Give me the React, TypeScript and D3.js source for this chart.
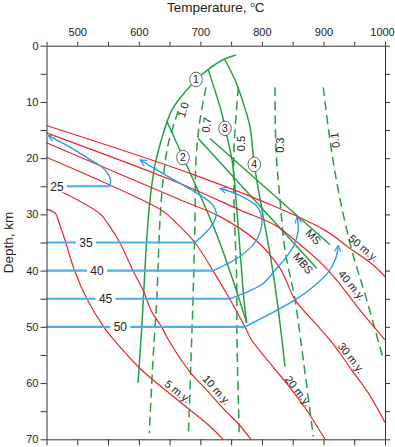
import { useEffect, useRef } from 'react'
import * as d3 from 'd3'

type Pt = [number, number]

// axis ticks
const tempTicks = [450, 500, 550, 600, 650, 700, 750, 800, 850, 900, 950, 1000]
const tempLabels = [500, 600, 700, 800, 900, 1000]
const depthTicks = [0, 5, 10, 15, 20, 25, 30, 35, 40, 45, 50, 55, 60, 65, 70]
const depthLabels = [0, 10, 20, 30, 40, 50, 60, 70]

// geotherms (temperature °C, depth km)
const geo5: Pt[] = [[450, 29.1], [464, 29.75], [470, 31.35], [480, 34.55], [496, 40.1], [516, 45.1], [543, 50.0], [561, 52.5], [602, 57.4], [656, 62.4], [710, 67.15], [737, 70]]
const geo10: Pt[] = [[450, 24.65], [537, 29.9], [550, 31.7], [569, 35.0], [591, 40.1], [607, 43.5], [621, 47.3], [637, 50.0], [648, 52.3], [683, 58.0], [710, 61.2], [737, 64.5], [764, 67.5], [782, 70]]
const geo20: Pt[] = [[450, 19.85], [639, 29.4], [656, 31.0], [691, 35.0], [721, 40.1], [748, 45.1], [772.5, 50.0], [783, 52.3], [818, 57.1], [845, 60.7], [872, 64.7], [902.5, 70]]
const geo30: Pt[] = [[450, 17.25], [667, 27.4], [732, 30.4], [791, 34.7], [830, 39.7], [854, 45.2], [892, 50.0], [919, 53.5], [946, 57.7], [973, 61.8], [1000, 67.0]]
const geo40: Pt[] = [[450, 15.5], [667, 24.5], [764, 29.2], [821, 31.9], [859, 35.1], [902, 39.3], [921.5, 41.7], [962, 47.4], [1000, 52.3]]
const geo50: Pt[] = [[450, 14.2], [683, 22.7], [821, 28.6], [902, 32.8], [940, 35.8], [984, 39.3], [1000, 41.1]]

const geotherms = [geo5, geo10, geo20, geo30, geo40, geo50]
const geoLabels = ['5 m.y.', '10 m.y.', '20 m.y.', '30 m.y.', '40 m.y.', '50 m.y.']

// melting reaction curves (solid green)
const curve1: Pt[] = [[598.7, 60], [603.5, 52.3], [607.3, 45.2], [612.8, 34.55], [618.2, 27.4], [626.3, 21.2], [639.8, 15.6], [653.9, 11.4], [677.8, 7.9], [692.9, 6.1], [715.6, 4.0], [736.8, 2.5], [757.9, 1.65]]
const curve2: Pt[] = [[645.3, 13.4], [671.8, 19.8], [699.4, 26.55], [727, 33.7], [753, 41.7], [775.3, 49.3]]
const curve3: Pt[] = [[712.9, 4.3], [727, 9.1], [735.2, 12.15], [740, 14.6], [751.4, 20.3], [757.9, 27.4], [764.4, 36.3], [770.9, 45.2], [775.3, 49.3]]
const curve4: Pt[] = [[740, 2.54], [756.3, 6.1], [769.8, 10.2], [780.6, 14.4], [787.6, 21.1], [800.2, 29.2], [814.8, 38.1], [824.5, 45.2], [832.6, 52.3], [837.5, 57.1]]
const msLine: Pt[] = [[715.6, 16.5], [910.6, 35.4]]
const mbsLine: Pt[] = [[696.6, 16.5], [889, 39.6]]

// water activity isopleths (dashed green)
const iso10: Pt[] = [[664, 11.6], [648, 17.4], [640, 23.3], [634.4, 31.0], [629.1, 45.2], [623, 55.9], [617, 68.9]]
const iso07: Pt[] = [[709.2, 7.4], [699.4, 13.2], [692.9, 20.3], [691.3, 31.0], [688, 45.2], [685.9, 52.3], [680.4, 69.5]]
const iso05: Pt[] = [[761.6, 7.4], [754.6, 18.55], [754.6, 27.4], [759, 41.7], [759.5, 52.3], [763.3, 69.5]]
const iso03: Pt[] = [[821.3, 7.4], [822.9, 18.55], [829.4, 27.4], [837.5, 36.3], [853.8, 45.2], [867.3, 55.9], [883.5, 69.5]]
const iso01: Pt[] = [[899.7, 7.4], [910.6, 16.8], [924.1, 25.7], [945.9, 36.3], [970.3, 45.2], [997.5, 55.9]]
const isopleths = [iso10, iso07, iso05, iso03, iso01]
const isoLabels = ['1.0', '0.7', '0.5', '0.3', '0.1']

// P-T paths: isobaric heating then decompression
const pathDepths = [25, 35, 40, 45, 50]
const pathTurnT = [553, 691, 721, 748, 772.5]
const path25: Pt[] = [[553, 25], [554, 23.8], [549, 22.6], [538, 21.4], [520, 20.2], [497, 18.6], [474, 17.2], [453, 16.0]]
const path35: Pt[] = [[691, 35], [710, 33.1], [722, 31.3], [726, 29.8], [720, 28.3], [707, 27.1], [688, 25.8], [667, 24.5], [634, 22.4], [602, 20.3]]
const path40: Pt[] = [[721, 40], [764, 37.5], [791, 34.6], [800, 31.0], [792, 28.6], [764, 26.6], [732, 25.4]]
const path45: Pt[] = [[748, 45], [780, 43.6], [802, 42.3], [821, 40.0], [840, 37.5], [853, 35.3], [859, 32.8], [857, 30.4]]
const path50: Pt[] = [[772.5, 50], [813, 47.7], [854, 45.2], [883, 42.9], [907, 40.4], [920, 37.8], [924, 35.5]]
const paths = [path25, path35, path40, path45, path50]

const RED = '#e8262b'
const GREEN = '#23a044'
const BLUE = '#2a9de0'
const BLUE_LIGHT = '#4aaeea'
const FONT = '"Liberation Sans", Arial, sans-serif'

export default function App() {
  const ref = useRef<SVGSVGElement>(null)

  useEffect(() => {
    const svg = d3.select(ref.current)
    svg.selectAll('*').remove()

    const x = d3.scaleLinear().domain([450, 1000]).range([46.5, 385])
    const y = d3.scaleLinear().domain([0, 70]).range([45.7, 439.3])

    const line = d3
      .line<Pt>()
      .x((d) => x(d[0]))
      .y((d) => y(d[1]))
      .curve(d3.curveCatmullRom.alpha(0.5))

    svg
      .append('defs')
      .append('marker')
      .attr('id', 'arr')
      .attr('viewBox', '0 0 10 10')
      .attr('refX', 9)
      .attr('refY', 5)
      .attr('markerWidth', 8)
      .attr('markerHeight', 8)
      .attr('markerUnits', 'userSpaceOnUse')
      .attr('orient', 'auto')
      .append('path')
      .attr('d', 'M1,1 L9,5 L1,9')
      .attr('fill', 'none')
      .attr('stroke', BLUE)
      .attr('stroke-width', 1.4)

    const addText = (t: string, tt: number, dd: number, a: number, size = 11) =>
      svg
        .append('text')
        .attr('transform', `translate(${x(tt)},${y(dd)}) rotate(${a})`)
        .attr('text-anchor', 'middle')
        .attr('dy', '0.35em')
        .attr('font-size', size)
        .attr('font-family', FONT)
        .attr('fill', '#222')
        .text(t)

    // green solid curves
    ;[curve1, curve2, curve3, curve4, msLine, mbsLine].forEach((c) => {
      svg.append('path').attr('d', line(c)).attr('fill', 'none').attr('stroke', GREEN).attr('stroke-width', 1.5)
    })
    // green dashed isopleths
    isopleths.forEach((c) => {
      svg
        .append('path')
        .attr('d', line(c))
        .attr('fill', 'none')
        .attr('stroke', GREEN)
        .attr('stroke-width', 1.5)
        .attr('stroke-dasharray', '9,5')
    })

    // red geotherms
    geotherms.forEach((g) => {
      svg.append('path').attr('d', line(g)).attr('fill', 'none').attr('stroke', RED).attr('stroke-width', 1.2)
    })

    // blue paths
    pathDepths.forEach((d, i) => {
      svg
        .append('line')
        .attr('x1', x(450))
        .attr('x2', x(pathTurnT[i]))
        .attr('y1', y(d))
        .attr('y2', y(d))
        .attr('stroke', BLUE_LIGHT)
        .attr('stroke-width', 2.2)
      svg
        .append('path')
        .attr('d', line(paths[i]))
        .attr('fill', 'none')
        .attr('stroke', BLUE)
        .attr('stroke-width', 1.4)
        .attr('marker-end', 'url(#arr)')
    })

    // isobar labels
    const isobarLabelT = [467, 514, 532, 546, 570]
    pathDepths.forEach((d, i) => {
      const g = svg.append('g').attr('transform', `translate(${x(isobarLabelT[i])},${y(d)})`)
      g.append('rect').attr('x', -10).attr('y', -6).attr('width', 20).attr('height', 12).attr('fill', '#fff')
      g.append('text')
        .attr('text-anchor', 'middle')
        .attr('dy', '0.36em')
        .attr('font-size', 12)
        .attr('font-family', FONT)
        .attr('fill', '#222')
        .text(String(d))
    })

    // geotherm labels
    const geoLabelPos: [number, number, number][] = [
      [663, 61.5, 39],
      [726.5, 61.2, 48],
      [859, 61.4, 52],
      [945, 55.5, 52],
      [946, 42.6, 50],
      [965, 36.0, 40],
    ]
    geoLabels.forEach((t, i) => addText(t, geoLabelPos[i][0], geoLabelPos[i][1], geoLabelPos[i][2]))

    // MS / MBS labels
    addText('MS', 883.5, 34.0, 45)
    addText('MBS', 867, 38.7, 50)

    // isopleth labels
    const isoLabelPos: [number, number, number][] = [
      [672, 11.4, -72],
      [710, 14.1, -82],
      [767, 17.4, -90],
      [830, 17.7, -90],
      [919, 16.8, -98],
    ]
    isoLabels.forEach((t, i) => addText(t, isoLabelPos[i][0], isoLabelPos[i][1], isoLabelPos[i][2]))

    // numbered circles
    const circlePos: Pt[] = [[692.9, 6.0], [671.8, 19.9], [740, 14.7], [787.6, 21.1]]
    circlePos.forEach((p, i) => {
      const g = svg.append('g').attr('transform', `translate(${x(p[0])},${y(p[1])})`)
      g.append('ellipse').attr('rx', 6.3).attr('ry', 7.3).attr('fill', '#fff').attr('stroke', '#555').attr('stroke-width', 0.9)
      g.append('text')
        .attr('text-anchor', 'middle')
        .attr('dy', '0.36em')
        .attr('font-size', 10.5)
        .attr('font-family', FONT)
        .attr('fill', '#222')
        .text(String(i + 1))
    })

    // axes
    const styleAxis = (g: any) => {
      g.selectAll('path,line').attr('stroke', '#333').attr('stroke-width', 1)
      g.selectAll('text').attr('font-size', 11).attr('font-family', FONT).attr('fill', '#222')
    }
    svg
      .append('g')
      .attr('transform', `translate(0,${y(0)})`)
      .call(
        d3
          .axisTop(x)
          .tickValues(tempTicks)
          .tickSize(4)
          .tickSizeOuter(0)
          .tickPadding(6)
          .tickFormat((v) => (tempLabels.includes(+v) ? String(v) : ''))
      )
      .call(styleAxis)
      .call((g) => g.selectAll('text').filter((v: any) => v === 1000).attr('dx', -3))
    svg
      .append('g')
      .attr('transform', `translate(0,${y(70)})`)
      .call(d3.axisBottom(x).tickValues(tempTicks).tickSize(6).tickSizeOuter(0).tickFormat(() => ''))
      .call(styleAxis)
    svg
      .append('g')
      .attr('transform', `translate(${x(450)},0)`)
      .call(
        d3
          .axisLeft(y)
          .tickValues(depthTicks)
          .tickSize(6)
          .tickSizeOuter(0)
          .tickPadding(2)
          .tickFormat((v) => (depthLabels.includes(+v) ? String(v) : ''))
      )
      .call(styleAxis)
    svg
      .append('g')
      .attr('transform', `translate(${x(1000)},0)`)
      .call(d3.axisRight(y).tickValues(depthTicks).tickSize(5).tickSizeOuter(0).tickFormat(() => ''))
      .call(styleAxis)

    // titles
    const title = svg
      .append('text')
      .attr('x', 167)
      .attr('y', 12)
      .attr('text-anchor', 'start')
      .attr('font-size', 13.5)
      .attr('font-family', FONT)
      .attr('fill', '#222')
    title.append('tspan').text('Temperature, ')
    title.append('tspan').attr('font-size', 8).attr('dy', -5).text('o')
    title.append('tspan').attr('dy', 5).text('C')

    svg
      .append('text')
      .attr('transform', `translate(12.5,${y(35)}) rotate(-90)`)
      .attr('text-anchor', 'middle')
      .attr('font-size', 13.5)
      .attr('font-family', FONT)
      .attr('fill', '#222')
      .text('Depth, km')
  }, [])

  return (
    <svg
      ref={ref}
      width={395}
      height={447}
      style={{ position: 'absolute', left: 0, top: 0, background: '#fff' }}
    />
  )
}
